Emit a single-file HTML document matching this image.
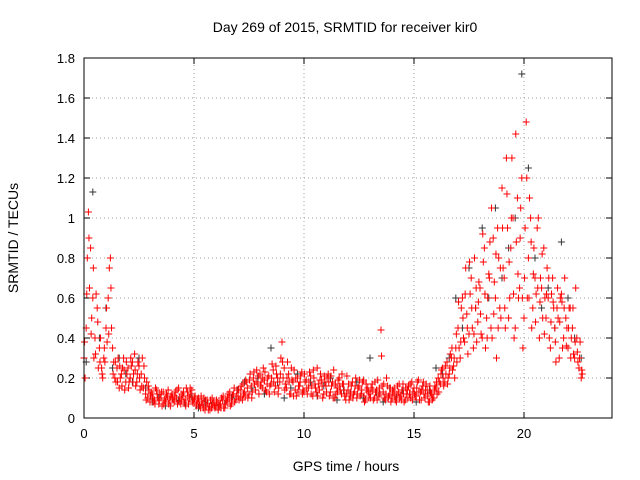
<!DOCTYPE html>
<html><head><meta charset="utf-8"><style>
body{margin:0;background:#fff;}
svg{display:block;font-family:"Liberation Sans",sans-serif;}
</style></head><body>
<svg id="chart" width="640" height="480" viewBox="0 0 640 480">
<rect x="0" y="0" width="640" height="480" fill="#fff"/>
<text x="345" y="32" font-size="14" text-anchor="middle">Day 269 of 2015, SRMTID for receiver kir0</text>
<text x="346" y="471" font-size="14" text-anchor="middle">GPS time / hours</text>
<text transform="translate(18,238) rotate(-90)" font-size="14" text-anchor="middle">SRMTID / TECUs</text>
<g id="grid"></g>
<g id="ticks"></g>
<g id="black"></g>
<g id="red"></g>
<rect x="84" y="58" width="528" height="360" fill="none" stroke="#000" stroke-width="1"/>
</svg>
<script>
const xTicks=[0,5,10,15,20];
const yTicks=[0,0.2,0.4,0.6,0.8,1,1.2,1.4,1.6,1.8];
const yTickLabels=["0","0.2","0.4","0.6","0.8","1","1.2","1.4","1.6","1.8"];
const redStep=0.1;
const redA=[0.30,0.45,1.03,0.85,0.60,0.40,0.55,0.35,0.25,0.30,
0.45,0.60,0.80,0.35,0.20,0.25,0.15,0.22,0.30,0.18,
0.25,0.20,0.28,0.32,0.18,0.26,0.22,0.15,0.12,0.10,
0.08,0.12,0.09,0.14,0.07,0.10,0.13,0.08,0.11,0.09,
0.12,0.08,0.10,0.15,0.07,0.11,0.09,0.13,0.10,0.14,
0.08,0.06,0.10,0.05,0.07,0.04,0.09,0.06,0.05,0.08,
0.06,0.04,0.07,0.09,0.05,0.08,0.10,0.07,0.12,0.09,
0.11,0.14,0.09,0.13,0.18,0.12,0.16,0.20,0.14,0.17,
0.22,0.15,0.19,0.13,0.21,0.17,0.24,0.16,0.20,0.18,
0.38,0.25,0.15,0.22,0.12,0.18,0.14,0.20,0.16,0.23,
0.13,0.19,0.15,0.21,0.11,0.17,0.25,0.14,0.19,0.12,
0.16,0.22,0.13,0.18,0.10,0.15,0.20,0.12,0.17,0.09,
0.14,0.11,0.18,0.13,0.10,0.16,0.12,0.19,0.09,0.15,
0.12,0.17,0.10,0.14,0.11,0.44,0.13,0.09,0.16,0.12,
0.10,0.15,0.08,0.13,0.11,0.17,0.09,0.14,0.12,0.18,
0.15,0.11,0.19,0.13,0.16,0.10,0.14,0.08,0.12,0.10,
0.15,0.20,0.17,0.25,0.18,0.28,0.22,0.30,0.26,0.35,
0.45,0.30,0.60,0.38,0.52,0.42,0.70,0.35,0.55,0.48,
0.65,0.40,0.85,0.50,0.72,0.45,0.90,0.60,0.95,0.55,
1.15,0.70,1.30,0.50,0.85,1.00,0.45,1.10,0.65,1.20,
0.50,1.48,0.80,1.00,0.55,0.70,0.95,0.40,0.65,0.85,
0.50,0.60,0.35,0.70,0.45,0.55,0.30,0.62,0.40,0.50,
0.35,0.55,0.45,0.30,0.40,0.25,0.20];
const redB=[0.20,0.80,0.65,0.50,0.30,0.62,0.25,0.40,0.20,0.28,
0.38,0.75,0.45,0.28,0.18,0.30,0.20,0.25,0.14,0.22,
0.18,0.26,0.22,0.16,0.28,0.14,0.30,0.20,0.18,0.14,
0.13,0.08,0.15,0.10,0.12,0.06,0.09,0.12,0.07,0.11,
0.09,0.13,0.07,0.10,0.12,0.08,0.15,0.07,0.12,0.09,
0.11,0.09,0.06,0.08,0.10,0.06,0.04,0.09,0.07,0.05,
0.08,0.06,0.10,0.05,0.09,0.12,0.06,0.11,0.08,0.14,
0.09,0.16,0.12,0.19,0.10,0.22,0.13,0.17,0.24,0.12,
0.18,0.25,0.14,0.20,0.16,0.27,0.13,0.22,0.15,0.30,
0.20,0.17,0.28,0.12,0.19,0.24,0.11,0.16,0.21,0.14,
0.18,0.12,0.23,0.16,0.20,0.13,0.17,0.22,0.10,0.18,
0.20,0.11,0.16,0.24,0.12,0.19,0.14,0.17,0.11,0.21,
0.09,0.16,0.12,0.20,0.15,0.11,0.18,0.08,0.14,0.10,
0.15,0.09,0.13,0.19,0.12,0.16,0.10,0.20,0.11,0.08,
0.13,0.09,0.16,0.10,0.14,0.08,0.12,0.16,0.10,0.13,
0.11,0.18,0.09,0.14,0.12,0.17,0.08,0.13,0.10,0.16,
0.12,0.18,0.24,0.16,0.22,0.20,0.32,0.24,0.20,0.28,
0.35,0.55,0.40,0.75,0.32,0.62,0.45,0.80,0.38,0.68,
0.42,0.78,0.35,0.60,0.88,0.40,0.68,0.30,0.80,0.50,
0.75,0.45,0.95,0.60,1.30,0.40,0.88,0.60,1.05,0.35,
0.95,0.60,1.10,0.45,0.85,0.62,1.00,0.70,0.50,0.60,
0.75,0.40,0.62,0.55,0.28,0.50,0.60,0.35,0.70,0.45,
0.55,0.40,0.32,0.65,0.28,0.38,0.22];
const redC=[0.38,0.62,0.90,0.42,0.75,0.32,0.48,0.28,0.22,0.35,
0.55,0.42,0.65,0.22,0.28,0.18,0.26,0.16,0.24,0.28,
0.15,0.30,0.18,0.24,0.22,0.20,0.16,0.26,0.09,0.16,
0.11,0.10,0.07,0.12,0.09,0.13,0.07,0.10,0.14,0.06,
0.10,0.11,0.14,0.08,0.09,0.13,0.06,0.11,0.15,0.08,
0.10,0.07,0.08,0.11,0.05,0.09,0.07,0.04,0.10,0.06,
0.09,0.07,0.05,0.11,0.07,0.10,0.13,0.09,0.15,0.11,
0.14,0.10,0.17,0.11,0.15,0.19,0.10,0.23,0.18,0.21,
0.16,0.20,0.23,0.17,0.12,0.20,0.18,0.26,0.12,0.22,
0.28,0.14,0.20,0.18,0.25,0.11,0.20,0.13,0.18,0.12,
0.22,0.15,0.18,0.12,0.24,0.15,0.11,0.19,0.16,0.21,
0.13,0.18,0.21,0.10,0.17,0.13,0.16,0.22,0.14,0.12,
0.17,0.13,0.10,0.16,0.12,0.19,0.14,0.11,0.17,0.13,
0.10,0.14,0.18,0.09,0.15,0.31,0.17,0.12,0.10,0.15,
0.14,0.11,0.12,0.17,0.09,0.12,0.15,0.10,0.17,0.09,
0.12,0.15,0.13,0.09,0.18,0.14,0.11,0.16,0.09,0.14,
0.18,0.13,0.22,0.20,0.26,0.17,0.25,0.35,0.30,0.42,
0.58,0.38,0.50,0.62,0.45,0.78,0.55,0.42,0.65,0.58,
0.52,0.92,0.62,0.40,0.70,1.05,0.52,0.82,0.45,0.75,
0.95,0.55,1.12,0.78,1.00,0.62,1.42,0.72,0.90,0.60,
0.70,1.20,0.60,0.88,0.72,0.48,0.65,0.58,0.82,0.42,
0.62,0.70,0.48,0.58,0.38,0.65,0.48,0.58,0.55,0.36,
0.45,0.30,0.55,0.38,0.33,0.30,0.24];
const blackStep=0.3;
const blackVals=[0.28,1.13,0.40,0.55,0.25,0.30,0.22,0.18,0.30,0.15,
0.08,0.10,0.06,0.12,0.09,0.07,0.11,0.05,0.08,0.06,
0.05,0.07,0.10,0.14,0.18,0.15,0.20,0.12,0.35,0.18,
0.10,0.15,0.22,0.13,0.18,0.11,0.16,0.20,0.09,0.14,
0.12,0.18,0.10,0.30,0.13,0.08,0.15,0.10,0.14,0.12,
0.08,0.16,0.14,0.25,0.22,0.30,0.60,0.45,0.75,0.55,
0.95,0.60,1.05,0.70,0.85,1.00,1.72,1.25,0.80,0.55,
0.65,0.45,0.88,0.60,0.40,0.30];

const X0=84,X1=612,Y0=418,Y1=58,XMAX=24,YMAX=1.8;
function xs(t){return X0+(X1-X0)*t/XMAX;}
function ys(v){return Y0-(Y0-Y1)*v/YMAX;}
const NS="http://www.w3.org/2000/svg";
function mk(tag,attrs,parent){const e=document.createElementNS(NS,tag);for(const k in attrs)e.setAttribute(k,attrs[k]);parent.appendChild(e);return e;}
const grid=document.getElementById('grid'),ticks=document.getElementById('ticks');
xTicks.forEach((t,i)=>{
  const x=xs(t);
  if(t>0){const g=mk('line',{x1:x,y1:Y0,x2:x,y2:Y1,stroke:'#a0a0a0','stroke-dasharray':'1,3'},grid);
  
  }
  mk('line',{x1:x,y1:Y0,x2:x,y2:Y0-6,stroke:'#000'},ticks);
  mk('line',{x1:x,y1:Y1,x2:x,y2:Y1+6,stroke:'#000'},ticks);
  const l=mk('text',{x:x,y:Y0+20,'font-size':13,'text-anchor':'middle'},ticks);
  l.textContent=t;
  
  
});
yTicks.forEach((v,i)=>{
  const y=ys(v);
  if(v>0&&v<YMAX){const g=mk('line',{x1:X0,y1:y,x2:X1,y2:y,stroke:'#a0a0a0','stroke-dasharray':'1,3'},grid);
  
  }
  mk('line',{x1:X0,y1:y,x2:X0+6,y2:y,stroke:'#000'},ticks);
  mk('line',{x1:X1,y1:y,x2:X1-6,y2:y,stroke:'#000'},ticks);
  const l=mk('text',{x:X0-9,y:y+5,'font-size':13,'text-anchor':'end'},ticks);
  l.textContent=yTickLabels[i];
  
  
});
function plus(g,t,v,color){
  const x=xs(t),y=ys(v);
  const p=mk('path',{d:`M${x-3.5} ${y}H${x+3.5}M${x} ${y-3.5}V${y+3.5}`,stroke:color,'stroke-width':1,fill:'none'},g);
  
  
}
const bg=document.getElementById('black'),rg=document.getElementById('red');
blackVals.forEach((v,i)=>plus(bg,i*blackStep+0.1,v,'#333'));
redA.forEach((v,i)=>plus(rg,i*redStep,v,'#ff0000'));
redB.forEach((v,i)=>plus(rg,i*redStep+0.05,v,'#ff0000'));
redC.forEach((v,i)=>plus(rg,i*redStep+0.025,v,'#ff0000'));
</script>
</body></html>
